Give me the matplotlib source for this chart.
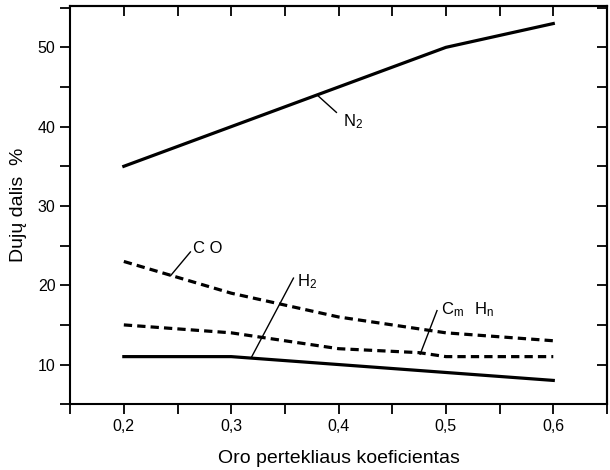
import matplotlib
matplotlib.use("Agg")
import matplotlib.pyplot as plt
from matplotlib.ticker import MultipleLocator, FuncFormatter, NullFormatter

plt.rcParams['font.family'] = ['Liberation Sans', 'DejaVu Sans']
plt.rcParams['mathtext.fontset'] = 'custom'
plt.rcParams['mathtext.rm'] = 'Liberation Sans'

# Data
x_n2 = [0.2, 0.3, 0.4, 0.5, 0.6]
n2 = [35, 40, 45, 50, 53]

x_co = [0.2, 0.25, 0.3, 0.35, 0.4, 0.45, 0.5, 0.55, 0.6]
co = [23, 21, 19, 17.5, 16, 15, 14, 13.5, 13]

x_cmhn = [0.2, 0.25, 0.3, 0.35, 0.4, 0.475, 0.5, 0.55, 0.6]
cmhn = [15, 14.5, 14, 13, 12, 11.5, 11, 11, 11]

x_h2 = [0.2, 0.3, 0.4, 0.5, 0.6]
h2 = [11, 11, 10, 9, 8]


def comma(v, pos):
    return f'{v:.1f}'.replace('.', ',')


fig, ax = plt.subplots(figsize=(6.1, 4.7), dpi=100)
fig.subplots_adjust(left=0.115, right=0.995, top=0.987, bottom=0.14)

ax.plot(x_n2, n2, color='black', lw=2.3)
ax.plot(x_h2, h2, color='black', lw=2.3)
ax.plot(x_co, co, color='black', lw=2.3, dashes=(2.6, 1.6))
ax.plot(x_cmhn, cmhn, color='black', lw=2.3, dashes=(2.6, 1.6))

# labels with leader lines
lbls = [
    ('$\\mathregular{N_2}$', (0.38, 44.0), (0.398, 41.8), (0.404, 40.6)),
    ('C O', (0.2435, 21.2), (0.262, 24.2), (0.264, 24.6)),
    ('$\\mathregular{H_2}$', (0.319, 10.95), (0.358, 20.9), (0.361, 20.5)),
    ('$\\mathregular{C_m\\ \\ H_n}$', (0.476, 11.3), (0.4917, 16.8), (0.495, 16.9)),
]
for txt, p0, p1, pt in lbls:
    ax.plot([p0[0], p1[0]], [p0[1], p1[1]], color='black', lw=1.0)
    ax.text(pt[0], pt[1], txt, fontsize=12, ha='left', va='center')

ax.set_xlim(0.15, 0.65)
ax.set_ylim(5, 55.2)
ax.xaxis.set_major_locator(MultipleLocator(0.1))
ax.xaxis.set_minor_locator(MultipleLocator(0.05))
ax.yaxis.set_major_locator(MultipleLocator(10))
ax.yaxis.set_minor_locator(MultipleLocator(5))
ax.xaxis.set_major_formatter(FuncFormatter(comma))
ax.tick_params(which='both', direction='out', length=7, width=1.3,
               labelsize=11.5)

# inward ticks on top and right
top = ax.secondary_xaxis('top')
top.xaxis.set_major_locator(MultipleLocator(0.1))
top.xaxis.set_minor_locator(MultipleLocator(0.05))
top.xaxis.set_major_formatter(NullFormatter())
top.tick_params(which='both', direction='in', length=7, width=1.3)
right = ax.secondary_yaxis('right')
right.yaxis.set_major_locator(MultipleLocator(10))
right.yaxis.set_minor_locator(MultipleLocator(5))
right.yaxis.set_major_formatter(NullFormatter())
right.tick_params(which='both', direction='in', length=7, width=1.3)

for a in (ax, top, right):
    for s in a.spines.values():
        s.set_linewidth(1.5)

ax.set_xlabel('Oro pertekliaus koeficientas', fontsize=14, labelpad=12)
ax.set_ylabel('Dujų dalis  %', fontsize=14, labelpad=8)

fig.savefig('out.png', dpi=100)
